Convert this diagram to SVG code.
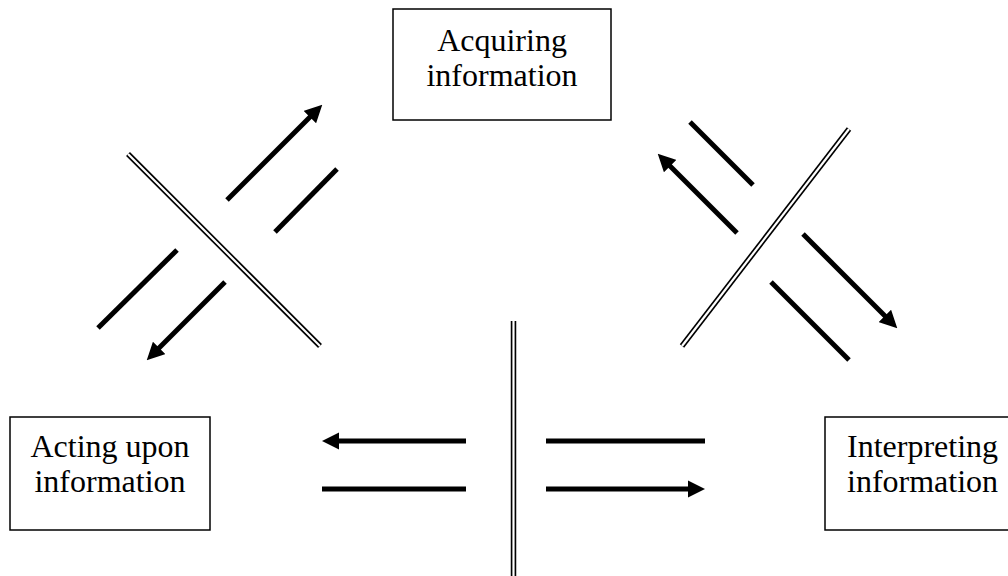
<svg xmlns="http://www.w3.org/2000/svg" width="1008" height="576" viewBox="0 0 1008 576">
<style>
.box{fill:#fff;stroke:#000;stroke-width:1.5}
.t{font-family:"Liberation Serif","Times New Roman",serif;font-size:32px;fill:#000}
.thick{stroke:#000;stroke-width:5;fill:none}
.dblo{stroke:#000;stroke-width:5.5;fill:none}
.dbli{stroke:#fff;stroke-width:2.2;fill:none}
</style>
<defs>
<marker id="ah" viewBox="0 0 10 10" refX="2.5" refY="5" markerWidth="3.5" markerHeight="3.5" orient="auto" markerUnits="strokeWidth">
<path d="M0,0 L10,5 L0,10 z" fill="#000"/>
</marker>
</defs>
<g id="node-acquiring">
<rect class="box" x="393" y="9" width="218" height="111"/>
<text class="t" x="502" y="51" text-anchor="middle">Acquiring</text>
<text class="t" x="502" y="86" text-anchor="middle">information</text>
</g>
<g id="node-acting">
<rect class="box" x="10" y="417" width="200" height="113"/>
<text class="t" x="110" y="457" text-anchor="middle">Acting upon</text>
<text class="t" x="110" y="492" text-anchor="middle">information</text>
</g>
<g id="node-interpreting">
<rect class="box" x="825" y="417" width="200" height="113"/>
<text class="t" x="847" y="457">Interpreting</text>
<text class="t" x="847" y="492">information</text>
</g>
<g id="connectors">
<line class="dblo" x1="128" y1="154" x2="320" y2="346"/>
<line class="dbli" x1="128" y1="154" x2="320" y2="346"/>
<line class="dblo" x1="682" y1="346" x2="849" y2="129"/>
<line class="dbli" x1="682" y1="346" x2="849" y2="129"/>
<line class="dblo" x1="513.5" y1="321" x2="513.5" y2="576"/>
<line class="dbli" x1="513.5" y1="321" x2="513.5" y2="576"/>
<line class="thick" x1="227" y1="200" x2="313" y2="114" marker-end="url(#ah)"/>
<line class="thick" x1="275" y1="232" x2="337" y2="169"/>
<line class="thick" x1="177" y1="250" x2="98" y2="328"/>
<line class="thick" x1="225" y1="282" x2="156" y2="351" marker-end="url(#ah)"/>
<line class="thick" x1="690" y1="122" x2="753" y2="185"/>
<line class="thick" x1="737" y1="233" x2="667" y2="163" marker-end="url(#ah)"/>
<line class="thick" x1="803" y1="234" x2="888" y2="319" marker-end="url(#ah)"/>
<line class="thick" x1="771" y1="282" x2="849" y2="360"/>
<line class="thick" x1="466" y1="441" x2="335" y2="441" marker-end="url(#ah)"/>
<line class="thick" x1="322" y1="489" x2="466" y2="489"/>
<line class="thick" x1="546" y1="441" x2="705" y2="441"/>
<line class="thick" x1="546" y1="489" x2="692" y2="489" marker-end="url(#ah)"/>
</g>
</svg>
